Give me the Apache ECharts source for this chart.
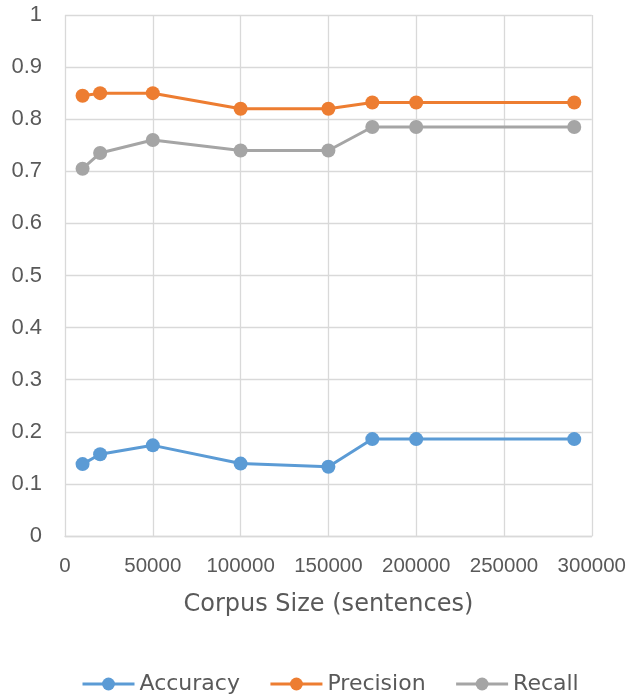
<!DOCTYPE html>
<html>
<head>
<meta charset="utf-8">
<script src="https://cdn.jsdelivr.net/npm/echarts@6/dist/echarts.min.js"></script>
<style>html,body{margin:0;padding:0;background:#fff}#c{width:629px;height:698px}</style>
</head>
<body>
<div id="c"></div>
<script>
const corpusSizes = [10000, 20000, 50000, 100000, 150000, 175000, 200000, 290000];
const accuracy = [0.138, 0.157, 0.174, 0.139, 0.133, 0.186, 0.186, 0.186];
const precision = [0.845, 0.85, 0.85, 0.82, 0.82, 0.832, 0.832, 0.832];
const recall = [0.705, 0.735, 0.76, 0.74, 0.74, 0.785, 0.785, 0.785];
const seriesNames = ['Accuracy', 'Precision', 'Recall'];
const xAxisTitle = 'Corpus Size (sentences)';

const colors = ['#5b9bd5', '#ed7d31', '#a5a5a5'];
const numFont = '"Liberation Sans", Arial, sans-serif';
const wordFont = '"DejaVu Sans", sans-serif';
const txt = '#595959';
const gridColor = '#d9d9d9';

const pair = arr => corpusSizes.map((x, i) => [x, arr[i]]);
const chart = echarts.init(document.getElementById('c'), null, {renderer: 'canvas'});
const mk = (name, data, color) => ({
  name, type: 'line', data: pair(data),
  symbol: 'circle', symbolSize: 14,
  lineStyle: {width: 3, color},
  itemStyle: {color},
  z: 3
});
chart.setOption({
  animation: false,
  color: colors,
  grid: {left: 65, right: 36, top: 15, bottom: 162, containLabel: false},
  xAxis: {
    type: 'value', min: 0, max: 300000, interval: 50000,
    name: xAxisTitle, nameLocation: 'middle', nameGap: 57,
    nameTextStyle: {fontSize: 24, color: txt, fontFamily: wordFont},
    axisLine: {show: true, lineStyle: {color: gridColor, width: 1.3}},
    axisTick: {show: false},
    axisLabel: {fontSize: 20.5, color: txt, margin: 20, fontFamily: numFont,
      formatter: v => String(v)},
    splitLine: {show: true, lineStyle: {color: gridColor, width: 1.3}}
  },
  yAxis: {
    type: 'value', min: 0, max: 1, interval: 0.1,
    axisLine: {show: false},
    axisTick: {show: false},
    axisLabel: {fontSize: 22, color: txt, margin: 23, fontFamily: numFont,
      formatter: v => String(Math.round(v * 10) / 10)},
    splitLine: {show: true, lineStyle: {color: gridColor, width: 1.3}}
  },
  legend: {
    data: seriesNames, top: 668, left: 76,
    itemWidth: 52, itemHeight: 16, itemGap: 29,
    lineStyle: {width: 3},
    textStyle: {fontSize: 22, color: txt, fontFamily: wordFont, padding: [0, 0, 0, 0]}
  },
  series: [
    mk(seriesNames[0], accuracy, colors[0]),
    mk(seriesNames[1], precision, colors[1]),
    mk(seriesNames[2], recall, colors[2])
  ]
});
</script>
</body>
</html>
